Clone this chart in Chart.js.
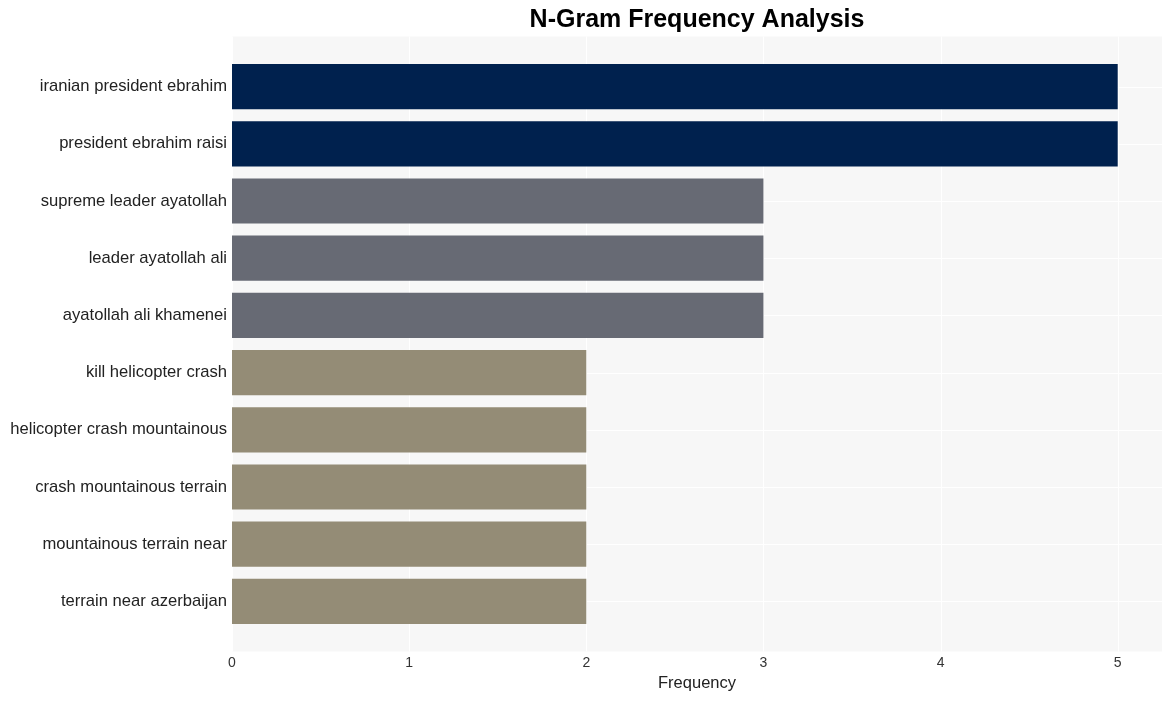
<!DOCTYPE html>
<html>
<head>
<meta charset="utf-8">
<script src="https://cdn.jsdelivr.net/npm/chart.js@4"></script>
<style>
  body { margin: 0; background: #ffffff; }
  #wrap { width: 1172px; height: 701px; }
</style>
</head>
<body>
<div id="wrap"><canvas id="chart"></canvas></div>
<script>
// n-gramas e frequencias
const ngrams = [
    'iranian president ebrahim',
    'president ebrahim raisi',
    'supreme leader ayatollah',
    'leader ayatollah ali',
    'ayatollah ali khamenei',
    'kill helicopter crash',
    'helicopter crash mountainous',
    'crash mountainous terrain',
    'mountainous terrain near',
    'terrain near azerbaijan'
];
const frequency = [5, 5, 3, 3, 3, 2, 2, 2, 2, 2];
const xTicks = [0, 1, 2, 3, 4, 5];
const barColors = ['#00214e', '#00214e', '#676a74', '#676a74', '#676a74',
                   '#948c76', '#948c76', '#948c76', '#948c76', '#948c76'];

const FONT = '"Liberation Sans", Arial, sans-serif';

// fundo do painel + grade + titulo (estilo ggplot)
const panelPlugin = {
    id: 'panel',
    beforeDatasetsDraw(chart) {
        const { ctx, chartArea, scales } = chart;
        const ext = 21.5;
        const top = chartArea.top - ext;
        const bottom = chartArea.bottom + ext;
        ctx.save();
        ctx.fillStyle = '#f7f7f7';
        ctx.fillRect(chartArea.left, top, chartArea.right - chartArea.left, bottom - top);
        ctx.strokeStyle = '#ffffff';
        ctx.lineWidth = 1;
        xTicks.forEach(v => {
            const x = Math.round(scales.x.getPixelForValue(v)) + 0.5;
            ctx.beginPath();
            ctx.moveTo(x, top);
            ctx.lineTo(x, bottom);
            ctx.stroke();
        });
        ngrams.forEach((n, i) => {
            const y = Math.round(scales.y.getPixelForValue(i)) + 0.5;
            ctx.beginPath();
            ctx.moveTo(chartArea.left, y);
            ctx.lineTo(chartArea.right, y);
            ctx.stroke();
        });
        ctx.restore();
    },
    afterDraw(chart) {
        const { ctx, chartArea } = chart;
        ctx.save();
        ctx.fillStyle = '#000000';
        ctx.font = 'bold 25px ' + FONT;
        ctx.textAlign = 'center';
        ctx.textBaseline = 'middle';
        ctx.fillText('N-Gram Frequency Analysis', (chartArea.left + chartArea.right) / 2, 20);
        ctx.restore();
    }
};

const ctx = document.getElementById('chart').getContext('2d');
const chart = new Chart(ctx, {
    type: 'bar',
    data: {
        labels: ngrams,
        datasets: [{
            label: 'Frequency',
            data: frequency,
            backgroundColor: barColors,
            categoryPercentage: 1,
            barPercentage: 0.79
        }]
    },
    options: {
        indexAxis: 'y',
        responsive: true,
        maintainAspectRatio: false,
        animation: false,
        layout: { padding: { top: 58, left: 10, right: 10, bottom: 0 } },
        plugins: {
            legend: { display: false },
            tooltip: { enabled: false }
        },
        scales: {
            x: {
                min: 0,
                max: 5.25,
                grid: { display: false, drawTicks: false },
                border: { display: false },
                afterBuildTicks(scale) {
                    scale.ticks = xTicks.map(v => ({ value: v }));
                },
                afterFit(scale) { scale.height = 71; },
                ticks: {
                    padding: 25,
                    maxRotation: 0,
                    color: '#333333',
                    font: { family: FONT, size: 14 }
                },
                title: {
                    display: true,
                    text: 'Frequency',
                    color: '#222222',
                    padding: { top: 0, bottom: 8 },
                    font: { family: FONT, size: 16.5 }
                }
            },
            y: {
                grid: { display: false, drawTicks: false },
                border: { display: false },
                afterFit(scale) { scale.width = 222; },
                ticks: {
                    padding: 5,
                    color: '#222222',
                    font: { family: FONT, size: 16.6 }
                }
            }
        }
    },
    plugins: [panelPlugin]
});
</script>
</body>
</html>
